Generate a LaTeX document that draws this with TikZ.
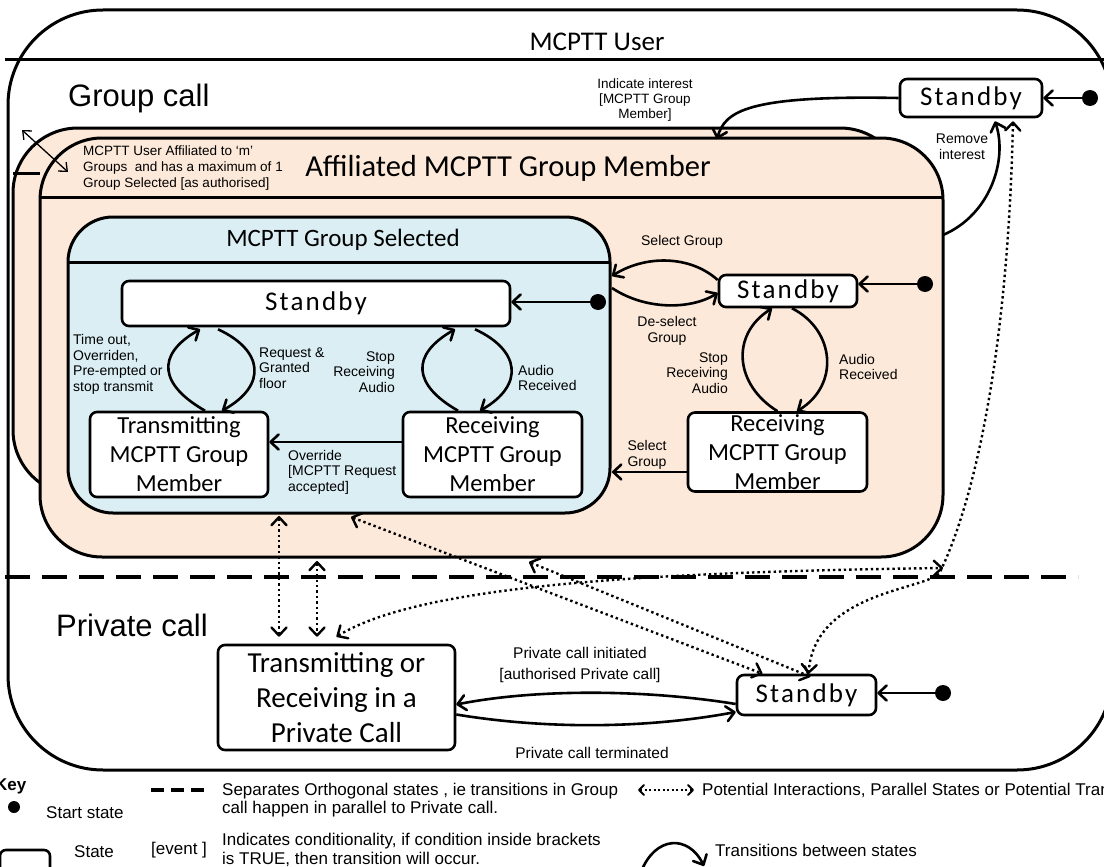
\documentclass[tikz,border=0pt]{standalone}
\usepackage{fontspec}
\setmainfont{Liberation Sans}
\newfontfamily\boxfont{Carlito}
\newfontfamily\sbfont{Carlito}[LetterSpace=8]
\usetikzlibrary{arrows.meta}
\definecolor{affil}{RGB}{253,233,217}
\definecolor{selbl}{RGB}{218,238,243}

\begin{document}
\begin{tikzpicture}[x=1pt, y=-1pt,
  every node/.style={inner sep=0pt},
  st/.style={draw, line width=2.6pt, rounded corners=7pt, fill=white, align=center,
             font=\boxfont\fontsize{24.5}{29}\selectfont},
  sbst/.style={st, font=\sbfont\fontsize{27}{29}\selectfont},
  startdot/.style={circle, fill=black, minimum size=16pt},
  lbl/.style={font=\fontsize{14}{15.5}\selectfont},
  keytxt/.style={font=\fontsize{17}{18.5}\selectfont},
  barb/.tip={Straight Barb[length=8pt,width=15pt,round]},
  trans/.style={line width=2.6pt, -barb},
  pot/.style={line width=2.4pt, dash pattern=on 2.4pt off 3pt, barb-barb},
  box/.style={line width=3pt},
]
\useasboundingbox (0,0) rectangle (1104,867);

% ---------- containers ----------
\draw[box, rounded corners=95pt] (8,10) rectangle (1112,770);
\draw[box] (5,60) -- (1110,60);
\node[font=\boxfont\fontsize{27}{30}\selectfont] (usrttl) at (597,42) {MCPTT User};
\node[font=\fontsize{31}{34}\selectfont, anchor=west] (grpcall) at (68,98) {Group call};
\node[font=\fontsize{31}{34}\selectfont, anchor=west] (prvcall) at (56,625) {Private call};

% stacked affiliation boxes
\draw[box, fill=affil, rounded corners=65pt] (13,128) rectangle (905,495);
\draw[box] (13,173) -- (40,173);
\draw[box, fill=affil, rounded corners=62pt] (40,138) rectangle (943,557);
\draw[box] (40,197) -- (943,197);
\node[font=\boxfont\fontsize{30.5}{34}\selectfont] (affttl) at (508,168) {Affiliated MCPTT Group Member};
\node[lbl, anchor=west, align=left, font=\fontsize{13.5}{16}\selectfont] (affnote) at (83,168)
  {MCPTT User Affiliated to ‘m’\\Groups\ \ and has a maximum of 1\\Group Selected [as authorised]};
\coordinate (cornerA) at (22,130);
\coordinate (cornerB) at (68,172);
\draw[line width=1.3pt, {Straight Barb[length=7pt,width=12pt]}-{Straight Barb[length=7pt,width=12pt]}] (cornerA) -- (cornerB);

% selected group box
\draw[box, fill=selbl, rounded corners=45pt] (68,217) rectangle (610,513);
\draw[box] (68,262) -- (610,262);
\node[font=\boxfont\fontsize{25}{30}\selectfont] (selttl) at (343,240) {MCPTT Group Selected};

% orthogonal separator
\draw[line width=3.5pt, dash pattern=on 25pt off 12pt] (5,577) -- (1078,577);

% border points used by connectors
\coordinate (affTop) at (717,139);
\coordinate (affRight) at (943,235);
\coordinate (selRightA) at (612,276);
\coordinate (selRightB) at (612,288);
\coordinate (selRightC) at (612,472);
\coordinate (selBotA) at (279,516);
\coordinate (selBotB) at (351,517);
\coordinate (affBotA) at (317,561);
\coordinate (affBotB) at (529,562);
\coordinate (aTap) at (943,568);

% ---------- states ----------
\node[sbst, minimum width=142pt, minimum height=38pt] (s0) at (971,98) {Standby};
\node[startdot] (d0) at (1090,98) {};

\node[sbst, minimum width=388pt, minimum height=45pt] (s1) at (316,303.5) {Standby};
\node[startdot] (d1) at (598,302) {};
\node[st, minimum width=178pt, minimum height=85pt] (t1) at (179,454.5) {Transmitting\\MCPTT Group\\Member};
\node[st, minimum width=179pt, minimum height=85pt] (r1) at (492.5,454.5) {Receiving\\MCPTT Group\\Member};

\node[sbst, minimum width=138pt, minimum height=32pt] (s2) at (788,291) {Standby};
\node[startdot] (d2) at (925,284) {};
\node[st, minimum width=179pt, minimum height=79pt] (r2) at (777.5,452) {Receiving\\MCPTT Group\\Member};

\node[st, minimum width=237pt, minimum height=105pt, font=\boxfont\fontsize{29}{35}\selectfont] (p1) at (336.5,697.5)
  {Transmitting or\\Receiving in a\\Private Call};
\node[sbst, minimum width=139pt, minimum height=40pt] (s3) at (806.5,695) {Standby};
\node[startdot] (d3) at (943,693) {};

% ---------- transitions ----------
\draw[trans] (d0) -- (s0.east |- d0);
\draw[trans] (s0.west) .. controls (745,95) and (725,112) .. (affTop);
\draw[trans] (affRight) .. controls (990,215) and (1008,160) .. ([xshift=24pt,yshift=-3pt]s0.south);

\draw[trans] (d1) -- (s1.east |- d1);
\draw[trans] ([xshift=26pt]t1.north) .. controls (160,385) and (155,355) .. ([xshift=-116pt,yshift=-2pt]s1.south);
\draw[trans] ([xshift=-98pt,yshift=-2pt]s1.south) .. controls (263,350) and (268,385) .. ([xshift=43pt]t1.north);
\draw[trans] ([xshift=-34.5pt]r1.north) .. controls (413,385) and (410,355) .. ([xshift=139pt,yshift=-2pt]s1.south);
\draw[trans] ([xshift=159pt,yshift=-2pt]s1.south) .. controls (520,350) and (525,385) .. ([xshift=-12.5pt]r1.north);
\draw[trans] ([yshift=12.5pt]r1.west) -- ([yshift=12.5pt]t1.east);

\draw[trans] (d2) -- (s2.east |- d2);
\draw[trans] ([yshift=11pt]s2.west) .. controls (690,255) and (645,255) .. (selRightA);
\draw[trans] (selRightB) .. controls (645,310) and (690,310) .. ([yshift=-2pt]s2.west);
\draw[trans] (r2.north) .. controls (735,385) and (730,335) .. ([xshift=-16pt]s2.south);
\draw[trans] ([xshift=4pt]s2.south) .. controls (835,330) and (840,385) .. ([xshift=19.5pt]r2.north);
\draw[trans] ([yshift=-20pt]r2.west) -- (selRightC);

\draw[trans] (d3) -- (s3.east |- d3);
\draw[trans] ([yshift=-9pt]s3.west) .. controls (650,690) and (540,688) .. ([yshift=-7pt]p1.east);
\draw[trans] ([yshift=-17pt]p1.east) .. controls (550,730) and (650,728) .. ([yshift=-17pt]s3.west);

% ---------- potential interactions ----------
\draw[pot] ([xshift=42pt,yshift=-3pt]s0.south) .. controls (1008,350) and (975,500) .. (940,572)
  .. controls (930,590) and (815,590) .. ([xshift=2pt]s3.north);
\draw[pot] (selBotA) -- ([xshift=-57.5pt,yshift=7pt]p1.north);
\draw[pot] (affBotA) -- ([xshift=-19.5pt,yshift=7pt]p1.north);
\draw[pot] ([yshift=7pt]p1.north) .. controls (420,585) and (650,572) .. (aTap);
\draw[pot] (selBotB) -- ([xshift=-44pt]s3.north);
\draw[pot] (affBotB) -- ([xshift=4pt,yshift=-3pt]s3.north);

% ---------- transition labels ----------
\node[lbl, font=\fontsize{13.5}{15}\selectfont, align=center] (lInd) at (645,100) {Indicate interest\\{}[MCPTT Group\\Member]};
\node[lbl, align=center] (lRem) at (962,147) {Remove\\interest};
\node[lbl, anchor=west, align=left] (lTime) at (73,364.5) {Time out,\\Overriden,\\Pre-empted or\\stop transmit};
\node[lbl, anchor=west, align=left] (lReq) at (259,368) {Request \&\\Granted\\floor};
\node[lbl, anchor=east, align=right] (lStop1) at (395,372) {Stop\\Receiving\\Audio};
\node[lbl, anchor=west, align=left] (lAud1) at (518,378) {Audio\\Received};
\node[lbl, anchor=west, align=left] (lOver) at (288,472) {Override\\{}[MCPTT Request\\accepted]};
\node[lbl] (lSel1) at (682,242) {Select Group};
\node[lbl, align=center] (lDes) at (667,331) {De-select\\Group};
\node[lbl, anchor=east, align=right] (lStop2) at (728,373) {Stop\\Receiving\\Audio};
\node[lbl, anchor=west, align=left] (lAud2) at (839,367) {Audio\\Received};
\node[lbl, align=center] (lSel2) at (647,455) {Select\\Group};
\node[lbl, font=\fontsize{15.5}{21}\selectfont, align=center] (lInit) at (580,665) {Private call initiated\\{}[authorised Private call]};
\node[lbl, font=\fontsize{15.5}{21}\selectfont] (lTerm) at (592,753) {Private call terminated};

% ---------- key ----------
\node[font=\bfseries\fontsize{17}{18}\selectfont, anchor=west] (keyttl) at (-5,786) {Key};
\node[circle, fill=black, minimum size=12pt] (keydot) at (14,807) {};
\node[keytxt, anchor=west] (keystart) at (46,813) {Start state};
\node[draw, line width=2.6pt, rounded corners=6pt, minimum width=50pt, minimum height=30pt] (keybox) at (25,865) {};
\node[keytxt, anchor=west] (keystate) at (74,852) {State};
\coordinate (keyDashA) at (151,790);
\coordinate (keyDashB) at (204,790);
\draw[line width=3.5pt, dash pattern=on 13pt off 7pt] (keyDashA) -- (keyDashB);
\node[keytxt, anchor=west, align=left] (keysep) at (222,800)
  {Separates Orthogonal states , ie transitions in Group\\call happen in parallel to Private call.};
\node[keytxt, anchor=west] (keyevent) at (151,850) {[event ]};
\node[keytxt, anchor=west, align=left] (keycond) at (222,850)
  {Indicates conditionality, if condition inside brackets\\is TRUE, then transition will occur.};
\coordinate (keyPotA) at (638,790);
\coordinate (keyPotB) at (694,790);
\draw[line width=2pt, dash pattern=on 2pt off 2.5pt,
  {Straight Barb[length=5pt,width=10pt,round]}-{Straight Barb[length=5pt,width=10pt,round]}] (keyPotA) -- (keyPotB);
\node[keytxt, anchor=west] (keypot) at (702,790) {Potential Interactions, Parallel States or Potential Transitions};
\coordinate (keyCurA) at (641,872);
\coordinate (keyCurB) at (704,866);
\draw[trans] (keyCurA) .. controls (655,836) and (688,834) .. (keyCurB);
\node[keytxt, anchor=west] (keytr) at (715,850) {Transitions between states};
\end{tikzpicture}
\end{document}
